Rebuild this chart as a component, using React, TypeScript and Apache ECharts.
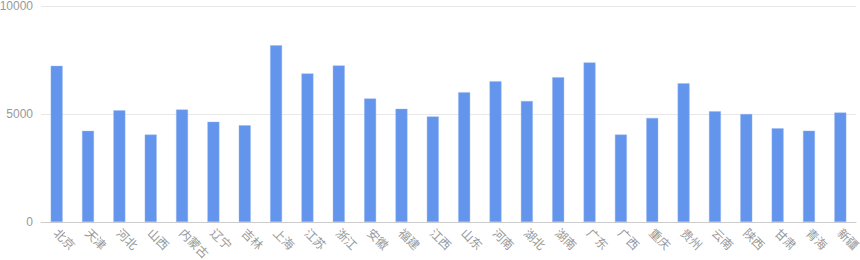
import React, { useEffect, useRef } from "react";
import * as echarts from "echarts";

const categories = ["北京", "天津", "河北", "山西", "内蒙古", "辽宁", "吉林", "上海", "江苏", "浙江", "安徽", "福建", "江西", "山东", "河南", "湖北", "湖南", "广东", "广西", "重庆", "贵州", "云南", "陕西", "甘肃", "青海", "新疆"];
const values = [7230, 4220, 5170, 4050, 5210, 4640, 4480, 8180, 6880, 7250, 5720, 5240, 4890, 6010, 6520, 5600, 6700, 7390, 4050, 4820, 6420, 5130, 5000, 4340, 4230, 5070];
const yMax = 10000;
const yInterval = 5000;

export default function App() {
  const ref = useRef<HTMLDivElement>(null);
  useEffect(() => {
    if (!ref.current) return;
    const chart = echarts.init(ref.current, null, { renderer: "svg" });
    chart.setOption({
      animation: false,
      grid: { left: 41, right: 4, top: 6, bottom: 38, containLabel: false, outerBoundsMode: "none" },
      xAxis: {
        type: "category",
        data: categories,
        axisLine: { lineStyle: { color: "#ccc" } },
        axisTick: { alignWithLabel: true, length: 5, lineStyle: { color: "#ccc" } },
        axisLabel: { rotate: -45, color: "#999", fontSize: 12, interval: 0, margin: 8, fontFamily: "Noto Sans CJK SC, sans-serif" },
      },
      yAxis: {
        type: "value",
        min: 0,
        max: yMax,
        interval: yInterval,
        axisLine: { show: false },
        axisTick: { show: false },
        axisLabel: { color: "#999", fontSize: 12, margin: 8, fontFamily: "sans-serif", formatter: (v: number) => String(v) },
        splitLine: { lineStyle: { color: "#e8e8e8", width: 1 } },
      },
      series: [
        {
          type: "bar",
          data: values,
          barWidth: 12,
          itemStyle: { color: "#6495ed", borderColor: "rgba(150,180,240,0.8)", borderWidth: 0.5 },
        },
      ],
    });
    return () => chart.dispose();
  }, []);
  return <div ref={ref} style={{ width: 860, height: 260, position: "absolute", left: 0, top: 0 }} />;
}
